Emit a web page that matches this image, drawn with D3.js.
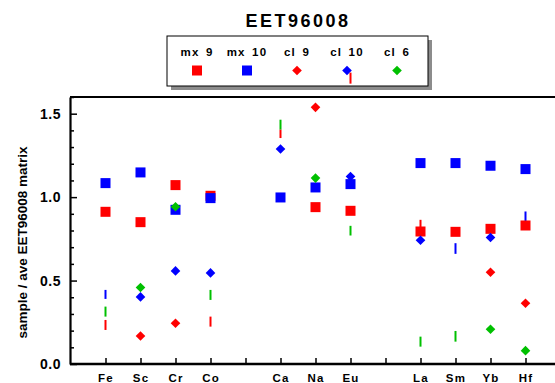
<!DOCTYPE html>
<html>
<head>
<meta charset="utf-8">
<script src="https://cdn.jsdelivr.net/npm/d3@7"></script>
<style>
  body { margin: 0; background: #fff; }
  svg { display: block; font-family: "Liberation Sans", Arial, sans-serif; font-weight: bold; }
</style>
</head>
<body>
<svg id="chart" width="555" height="383"></svg>
<script>
// Categories along the x axis ("" = empty slot)
const elements = ["Fe", "Sc", "Cr", "Co", "", "Ca", "Na", "Eu", "", "La", "Sm", "Yb", "Hf"];

// Series values (null = not plotted)
const mx9  = [0.912, 0.85, 1.072, 1.008, null, null, 0.94, 0.918, null, 0.794, 0.792, 0.81, 0.83];
const mx10 = [1.084, 1.148, 0.924, 0.994, null, 0.998, 1.058, 1.078, null, 1.204, 1.204, 1.188, 1.168];
const cl9  = [null, 0.168, 0.244, null, null, null, 1.538, null, null, null, null, 0.55, 0.364];
const cl10 = [null, 0.402, 0.558, 0.546, null, 1.288, null, 1.124, null, 0.742, null, 0.758, null];
const cl6  = [null, 0.458, 0.942, null, null, null, 1.114, null, null, null, null, 0.208, 0.08];

// Short vertical range bars: [element, series, low, high]
const ranges = [
  ["Fe", "cl10", 0.39, 0.444],
  ["Fe", "cl6", 0.284, 0.344],
  ["Fe", "cl9", 0.204, 0.264],
  ["Co", "cl6", 0.384, 0.444],
  ["Co", "cl9", 0.224, 0.284],
  ["Ca", "cl6", 1.404, 1.464],
  ["Ca", "cl9", 1.354, 1.404],
  ["Eu", "cl6", 0.77, 0.828],
  ["Eu", "cl9", 1.68, 1.746],
  ["La", "cl9", 0.794, 0.864],
  ["La", "cl6", 0.104, 0.164],
  ["Sm", "cl10", 0.66, 0.724],
  ["Sm", "cl6", 0.134, 0.198],
  ["Hf", "cl10", 0.85, 0.914]
];

const yTicks = [0, 0.5, 1.0, 1.5];

const series = [
  { key: "mx9",  label: "mx 9",  values: mx9,  color: "#ff0000", shape: "square" },
  { key: "mx10", label: "mx 10", values: mx10, color: "#0000ff", shape: "square" },
  { key: "cl9",  label: "cl 9",  values: cl9,  color: "#ff0000", shape: "diamond" },
  { key: "cl10", label: "cl 10", values: cl10, color: "#0000ff", shape: "diamond" },
  { key: "cl6",  label: "cl 6",  values: cl6,  color: "#00c000", shape: "diamond" }
];
const colorOf = Object.fromEntries(series.map(s => [s.key, s.color]));

const margin = { top: 97, right: -5, bottom: 19, left: 70 };
const width = 555, height = 383;

const svg = d3.select("#chart");

const x = d3.scaleLinear()
  .domain([0, elements.length + 1])
  .range([margin.left + 0.5, width - margin.right + 0.5]);

const y = d3.scaleLinear()
  .domain([0, 1.6])
  .range([height - margin.bottom, margin.top]);

// Frame lines (top)
svg.append("line")
  .attr("x1", margin.left).attr("x2", width + 5)
  .attr("y1", y(1.6)).attr("y2", y(1.6))
  .attr("stroke", "#000").attr("stroke-width", 2);

// Y axis
const yAxis = d3.axisLeft(y)
  .tickValues(d3.range(0, 1.61, 0.1).map(v => +v.toFixed(1)))
  .tickSize(0)
  .tickFormat("");
const gy = svg.append("g").attr("transform", `translate(${margin.left},0)`).call(yAxis);
gy.select(".domain").attr("stroke-width", 2.2);
gy.selectAll(".tick line")
  .attr("x2", d => yTicks.some(t => Math.abs(t - d) < 1e-6) ? 7 : 4)
  .attr("stroke-width", 1.5);

svg.append("g").selectAll("text")
  .data(yTicks)
  .join("text")
    .attr("x", 61)
    .attr("y", d => y(d) + 5)
    .attr("text-anchor", "end")
    .attr("font-size", 14)
    .attr("letter-spacing", 0.5)
    .text(d => d.toFixed(1));

// X axis
const xAxis = d3.axisBottom(x)
  .tickValues(d3.range(1, elements.length + 1))
  .tickSize(0)
  .tickPadding(10)
  .tickFormat(i => elements[i - 1]);
const gx = svg.append("g").attr("transform", `translate(0,${y(0)})`).call(xAxis);
gx.select(".domain").attr("d", `M${margin.left},0H${width + 5}`).attr("stroke-width", 2.5);
gx.selectAll(".tick line").attr("y2", -6).attr("stroke-width", 1.5);
gx.selectAll(".tick text")
  .attr("font-size", 11.5)
  .attr("letter-spacing", 1.2)
  .attr("font-family", "Liberation Sans, Arial, sans-serif")
  .attr("font-weight", "bold")
  .attr("fill", "#000");

// Y axis title
svg.append("text")
  .attr("transform", `translate(27,${(y(0) + y(1.6)) / 2 + 12}) rotate(-90)`)
  .attr("text-anchor", "middle")
  .attr("font-size", 13.5)
  .text("sample / ave EET96008 matrix");

// Title
svg.append("text")
  .attr("x", 298).attr("y", 27)
  .attr("text-anchor", "middle")
  .attr("font-size", 18)
  .attr("letter-spacing", 2.5)
  .text("EET96008");

// Legend
const legend = svg.append("g");
legend.append("rect")
  .attr("x", 171).attr("y", 40).attr("width", 261).attr("height", 50)
  .attr("fill", "#8c8c8c");
legend.append("rect")
  .attr("x", 167).attr("y", 36).attr("width", 261).attr("height", 50)
  .attr("fill", "#fff").attr("stroke", "#000").attr("stroke-width", 1);
const lx = d3.scalePoint().domain(series.map(s => s.key)).range([197, 397]);
legend.selectAll("text")
  .data(series)
  .join("text")
    .attr("x", d => lx(d.key))
    .attr("y", 56)
    .attr("text-anchor", "middle")
    .attr("font-size", 11.5)
    .attr("letter-spacing", 1.2)
    .attr("word-spacing", 2)
    .text(d => d.label);

function drawShape(sel, shape, color) {
  if (shape === "square") {
    sel.append("rect")
      .attr("x", -5).attr("y", -5).attr("width", 10).attr("height", 10)
      .attr("fill", color);
  } else {
    sel.append("path")
      .attr("d", "M0,-4.8L4.8,0L0,4.8L-4.8,0Z")
      .attr("fill", color);
  }
}

legend.selectAll("g.sym")
  .data(series)
  .join("g")
    .attr("class", "sym")
    .attr("transform", d => `translate(${lx(d.key)},70.5)`)
    .each(function (d) { drawShape(d3.select(this), d.shape, d.color); });

// Range bars (not clipped, like the original)
const idx = name => elements.indexOf(name) + 1;
svg.append("g").selectAll("line")
  .data(ranges)
  .join("line")
    .attr("x1", d => x(idx(d[0])))
    .attr("x2", d => x(idx(d[0])))
    .attr("y1", d => y(d[2]))
    .attr("y2", d => y(d[3]))
    .attr("stroke", d => colorOf[d[1]])
    .attr("stroke-width", 2);

// Markers
series.forEach(s => {
  const pts = s.values.map((v, i) => ({ i: i + 1, v })).filter(d => d.v !== null);
  svg.append("g").selectAll("g")
    .data(pts)
    .join("g")
      .attr("transform", d => `translate(${x(d.i)},${y(d.v)})`)
      .each(function () { drawShape(d3.select(this), s.shape, s.color); });
});
</script>
</body>
</html>
